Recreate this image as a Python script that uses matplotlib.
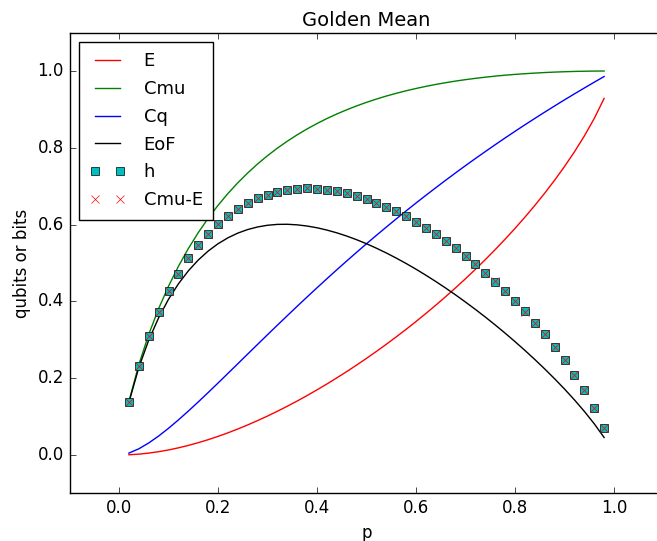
import matplotlib
matplotlib.use('Agg')
import matplotlib.pyplot as plt

plt.style.use('classic')

p = [0.02, 0.04, 0.06, 0.08, 0.10, 0.12, 0.14, 0.16, 0.18, 0.20,
     0.22, 0.24, 0.26, 0.28, 0.30, 0.32, 0.34, 0.36, 0.38, 0.40,
     0.42, 0.44, 0.46, 0.48, 0.50, 0.52, 0.54, 0.56, 0.58, 0.60,
     0.62, 0.64, 0.66, 0.68, 0.70, 0.72, 0.74, 0.76, 0.78, 0.80,
     0.82, 0.84, 0.86, 0.88, 0.90, 0.92, 0.94, 0.96, 0.98]

E = [0.0006, 0.0022, 0.0049, 0.0086, 0.0131, 0.0186, 0.0249, 0.0320, 0.0398, 0.0484,
     0.0577, 0.0677, 0.0783, 0.0896, 0.1014, 0.1139, 0.1270, 0.1406, 0.1548, 0.1696,
     0.1849, 0.2008, 0.2172, 0.2341, 0.2516, 0.2697, 0.2883, 0.3075, 0.3272, 0.3476,
     0.3686, 0.3902, 0.4124, 0.4354, 0.4590, 0.4835, 0.5087, 0.5348, 0.5619, 0.5900,
     0.6193, 0.6498, 0.6818, 0.7155, 0.7512, 0.7893, 0.8305, 0.8761, 0.9285]

Cmu = [0.1392, 0.2352, 0.3138, 0.3810, 0.4395, 0.4912, 0.5374, 0.5788, 0.6162, 0.6500,
       0.6808, 0.7088, 0.7344, 0.7579, 0.7794, 0.7991, 0.8171, 0.8338, 0.8491, 0.8631,
       0.8761, 0.8880, 0.8989, 0.9090, 0.9183, 0.9268, 0.9347, 0.9418, 0.9484, 0.9544,
       0.9599, 0.9650, 0.9695, 0.9737, 0.9774, 0.9808, 0.9838, 0.9866, 0.9890, 0.9911,
       0.9929, 0.9945, 0.9959, 0.9971, 0.9980, 0.9988, 0.9993, 0.9997, 0.9999]

Cq = [0.0049, 0.0161, 0.0313, 0.0493, 0.0695, 0.0913, 0.1143, 0.1381, 0.1625, 0.1873,
      0.2124, 0.2376, 0.2629, 0.2881, 0.3132, 0.3381, 0.3628, 0.3873, 0.4115, 0.4354,
      0.4590, 0.4823, 0.5052, 0.5278, 0.5501, 0.5720, 0.5935, 0.6147, 0.6356, 0.6561,
      0.6762, 0.6960, 0.7155, 0.7347, 0.7535, 0.7720, 0.7901, 0.8080, 0.8256, 0.8428,
      0.8598, 0.8764, 0.8928, 0.9089, 0.9248, 0.9403, 0.9556, 0.9707, 0.9855]

EoF = [0.1370, 0.2277, 0.2990, 0.3572, 0.4055, 0.4457, 0.4794, 0.5076, 0.5309, 0.5501,
       0.5655, 0.5778, 0.5871, 0.5938, 0.5982, 0.6005, 0.6008, 0.5993, 0.5962, 0.5917,
       0.5857, 0.5785, 0.5701, 0.5606, 0.5501, 0.5385, 0.5261, 0.5128, 0.4987, 0.4838,
       0.4681, 0.4517, 0.4346, 0.4168, 0.3982, 0.3791, 0.3592, 0.3386, 0.3173, 0.2952,
       0.2724, 0.2487, 0.2241, 0.1985, 0.1718, 0.1436, 0.1137, 0.0814, 0.0456]

h = [0.1387, 0.2330, 0.3089, 0.3724, 0.4264, 0.4726, 0.5125, 0.5468, 0.5763, 0.6016,
     0.6231, 0.6412, 0.6562, 0.6683, 0.6779, 0.6851, 0.6902, 0.6932, 0.6942, 0.6935,
     0.6912, 0.6872, 0.6818, 0.6749, 0.6667, 0.6571, 0.6464, 0.6344, 0.6212, 0.6068,
     0.5914, 0.5748, 0.5571, 0.5383, 0.5184, 0.4974, 0.4751, 0.4517, 0.4271, 0.4011,
     0.3737, 0.3447, 0.3141, 0.2816, 0.2468, 0.2095, 0.1688, 0.1236, 0.0714]

Cmu_minus_E = [c - e for c, e in zip(Cmu, E)]

fig = plt.figure(figsize=(6.57, 5.41), dpi=100, facecolor='white')
ax = fig.add_axes([0.1058, 0.0880, 0.9041, 0.8518])

ax.plot(p, E, 'r-', label='E')
ax.plot(p, Cmu, 'g-', label='Cmu')
ax.plot(p, Cq, 'b-', label='Cq')
ax.plot(p, EoF, 'k-', label='EoF')
ax.plot(p, h, 'cs', label='h')
ax.plot(p, Cmu_minus_E, 'rx', label='Cmu-E')

ax.set_xlim(-0.1, 1.1)
ax.set_ylim(-0.1, 1.1)
ax.set_xticks([0.0, 0.2, 0.4, 0.6, 0.8, 1.0])
ax.set_yticks([0.0, 0.2, 0.4, 0.6, 0.8, 1.0])
ax.tick_params(labelsize=12)

ax.set_title('Golden Mean', fontsize=14)
ax.set_xlabel('p', fontsize=12)
ax.set_ylabel('qubits or bits', fontsize=12)
ax.legend(loc='upper left', fontsize=13, labelspacing=0.54,
          handletextpad=1.0, borderpad=0.6)

fig.savefig('out.png', dpi=100, facecolor='white')
